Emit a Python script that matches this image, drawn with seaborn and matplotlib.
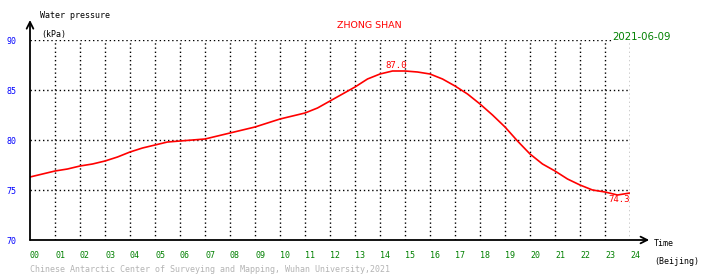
import matplotlib
matplotlib.use("Agg")
import matplotlib.pyplot as plt
import seaborn as sns
import pandas as pd

hours = [0, 0.5, 1, 1.5, 2, 2.5, 3, 3.5, 4, 4.5, 5, 5.5, 6, 6.5, 7, 7.5, 8, 8.5,
         9, 9.5, 10, 10.5, 11, 11.5, 12, 12.5, 13, 13.5, 14, 14.5, 15, 15.5, 16,
         16.5, 17, 17.5, 18, 18.5, 19, 19.5, 20, 20.5, 21, 21.5, 22, 22.5, 23,
         23.5, 24]
pressure = [76.3, 76.6, 76.9, 77.1, 77.4, 77.6, 77.9, 78.3, 78.8, 79.2, 79.5,
            79.8, 79.9, 80.0, 80.1, 80.4, 80.7, 81.0, 81.3, 81.7, 82.1, 82.4,
            82.7, 83.2, 83.9, 84.6, 85.3, 86.1, 86.6, 86.9, 86.9, 86.8, 86.6,
            86.1, 85.4, 84.6, 83.6, 82.5, 81.3, 79.9, 78.6, 77.6, 76.9, 76.1,
            75.5, 75.0, 74.8, 74.5, 74.7]
x_tick_labels = ["%02d" % h for h in range(25)]
y_ticks = [70, 75, 80, 85, 90]
max_label = "87.0"
min_label = "74.3"

sns.set_style("white")
plt.rcParams['font.family'] = ['DejaVu Sans Mono', 'DejaVu Sans']

W, H = 710, 278
fig = plt.figure(figsize=(W / 100, H / 100), dpi=100)
ax = fig.add_axes([30 / W, (H - 240) / H, 600 / W, 200 / H])

df = pd.DataFrame({"hour": hours, "kPa": pressure})
sns.lineplot(data=df, x="hour", y="kPa", ax=ax, color="red", linewidth=1.2)

ax.set_xlim(0, 24)
ax.set_ylim(70, 90)
for s in ax.spines.values():
    s.set_visible(False)

# dotted grid
for h in range(1, 25):
    ax.axvline(h, color="black", linestyle=(0, (1, 2)), linewidth=1, zorder=0)
for v in y_ticks[1:]:
    xmax = 581 / 600 if v == 90 else 1
    ax.axhline(v, xmax=xmax, color="black", linestyle=(0, (1, 2)), linewidth=1, zorder=0)

ax.set_xticks(range(25))
ax.set_xticklabels(x_tick_labels, color="green", fontsize=6, ha="left")
ax.set_yticks(y_ticks)
ax.set_yticklabels([str(v) for v in y_ticks], color="blue", fontsize=6)
ax.tick_params(axis="x", length=0, pad=8)
ax.tick_params(axis="y", length=0, pad=10)
ax.set_xlabel("")
ax.set_ylabel("")

# axes with arrows
ax.annotate("", xy=(0, 1.1), xytext=(0, 0), xycoords="axes fraction",
            arrowprops=dict(arrowstyle="->", lw=1.3, color="black",
                            shrinkA=0, shrinkB=0, mutation_scale=12))
ax.annotate("", xy=(1.032, 0), xytext=(0, 0), xycoords="axes fraction",
            arrowprops=dict(arrowstyle="->", lw=1.3, color="black",
                            shrinkA=0, shrinkB=0, mutation_scale=12))

# value labels
ax.text(14.64, 87.5, max_label, color="red", fontsize=6.5, ha="center", va="center")
ax.text(23.55, 74.0, min_label, color="red", fontsize=6.5, ha="center", va="center")

def ftext(x, y, s, **kw):
    fig.text(x / W, 1 - y / H, s, va="center", **kw)

ftext(40, 16, "Water pressure", fontsize=6, color="black")
ftext(41, 34, "(kPa)", fontsize=6, color="black")
ftext(369, 25, "ZHONG SHAN", fontsize=6.8, color="red", ha="center",
      family="DejaVu Sans")
ftext(612, 37, "2021-06-09", fontsize=7.3, color="green", family="DejaVu Sans")
ftext(654, 244, "Time", fontsize=6, color="black")
ftext(654, 261, "(Beijing)", fontsize=6, color="black")
ftext(30, 270, "Chinese Antarctic Center of Surveying and Mapping, Wuhan University,2021",
      fontsize=6, color="#b4b4b4")

fig.savefig("out.png", dpi=100, facecolor="white")
